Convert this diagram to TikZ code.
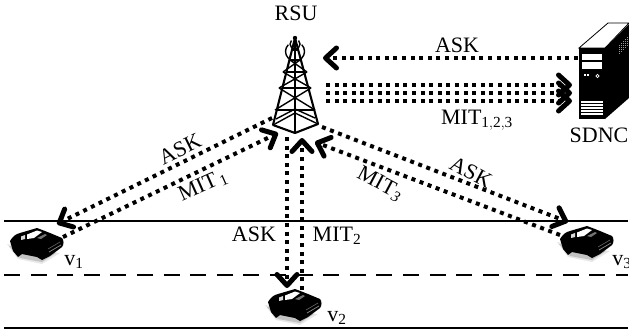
\documentclass[tikz,border=0pt]{standalone}
\usepackage{fontspec}
\setmainfont{Liberation Serif}
\usetikzlibrary{arrows.meta}
\tikzset{
  x=1pt,y=-1pt,
  lab/.style={font=\fontsize{22}{24}\selectfont,inner sep=0pt},
  dots/.style={line width=4pt,dash pattern=on 4pt off 4.6pt,
    -{Straight Barb[length=11pt,width=20pt,line width=5pt,round]}},
  road/.style={line width=1.8pt},
  tw/.style={line width=2.1pt,line join=round},
  tw2/.style={line width=1.4pt},
  pics/car/.style={code={
    \fill[black!30,opacity=.3] (-3,16) -- (8,31) -- (32,36) -- (50,25) -- (30,22) -- cycle;
    \fill[black!45,opacity=.4] (-1,18) -- (10,30) -- (32,34) -- (46,25) -- (30,22) -- cycle;
    \fill[black,line join=round] (0,13) .. controls (3,8) and (6,6) .. (10,5) -- (27,0) -- (35,3) -- (40,5)
      -- (52,10) .. controls (54,12) and (54,17) .. (52,19) -- (40,28) -- (32,32) -- (27,29) -- (12,26) -- (8,29) -- (3,23) -- cycle;
    \fill[white!85!black] (11,8.5) -- (15,7) -- (15,11) -- (11,12) -- cycle;
    \fill[white] (17,6.5) -- (27,2.5) -- (32,4) -- (24,10) -- (17,11) -- cycle;
    \fill[black!55] (27,10) -- (35,6) -- (37,7) -- (31,11) -- cycle;
    \draw[black!60,line width=.6pt] (38,21) -- (50,14);
    \draw[black!45,line width=.7pt] (39,24) -- (51,17);
  }},
}
\begin{document}
\begin{tikzpicture}
\useasboundingbox (0,0) rectangle (629,335);
% roads
\coordinate (r1a) at (4,221); \coordinate (r1b) at (628,221);
\coordinate (r2a) at (4,275); \coordinate (r2b) at (628,275);
\coordinate (r3a) at (4,328); \coordinate (r3b) at (628,328);
\draw[road] (r1a) -- (r1b);
\draw[road,dash pattern=on 16pt off 10.6pt] (r2a) -- (r2b);
\draw[road] (r3a) -- (r3b);
% tower
\coordinate (apex) at (295,38);
\coordinate (bl) at (273,125);
\coordinate (br) at (318,124);
\coordinate (bf) at (295,133);
\draw[tw] (bl) -- (apex) -- (br) -- (bf) -- cycle;
\draw[tw] (apex) -- (bf);
\draw[tw2] (bl) -- (295,113) -- (br);
\draw[tw2] (276,119) -- (295,109) -- (315,118);
\foreach \ya/\xa/\yb/\xb in {60/290/72/283, 72/283/88/279, 88/279/110/275}{
  \draw[tw2] (\xa,\ya) -- (590-\xb,\yb);
  \draw[tw2] (590-\xa,\ya) -- (\xb,\yb);
}
\foreach \y/\d in {50/3,60/5,72/8,88/12,110/19}{\draw[tw2] (295-\d,\y) -- (295+\d,\y);}
\fill (apex) circle (2.2);
\draw[line width=1.4pt] (288.3,44.7) arc[start angle=225,end angle=-45,radius=9.5];
\draw[line width=1.4pt] (291.5,40.5) arc[start angle=225,end angle=-45,radius=5];
% server
\fill[white,draw=black,line width=.8pt] (579,48) -- (608,23) -- (629,23) -- (605,48) -- cycle;
\fill[black] (605,48) -- (629,24) -- (629,98) -- (605,119) -- cycle;
\foreach \i in {0,1,2,3,4}{\draw[white!60!black,line width=1pt,dash pattern=on 1pt off 1pt] (619+2*\i,45-2*\i) -- (619+2*\i,55-2*\i);}
\fill[black] (579,48) rectangle (605,119);
\fill[white] (582,54) rectangle (602,60);
\fill[white] (582,62) rectangle (602,69);
\fill[white] (584,74) rectangle (586,76);
\fill[white] (587,74) rectangle (589,76);
\draw[white,line width=.6pt] (597.5,76) circle (1.6);
\foreach \y in {102,105,108,111,114}{\draw[white,line width=1.4pt] (581,\y) -- (603,\y);}
% anchor points
\coordinate (s1) at (578,58); \coordinate (t1) at (323,58);
\coordinate (a1) at (326,85); \coordinate (b1) at (572,85);
\coordinate (a2) at (326,93); \coordinate (b2) at (572,93);
\coordinate (a3) at (326,101);\coordinate (b3) at (572,101);
\coordinate (l1) at (272,118); \coordinate (l1e) at (57,224);
\coordinate (l2) at (63,237); \coordinate (l2e) at (278,133);
\coordinate (c1) at (287,137); \coordinate (c1e) at (287,288);
\coordinate (c2) at (302,290); \coordinate (c2e) at (302,138);
\coordinate (q1) at (322,127); \coordinate (q1e) at (568,222);
\coordinate (q2) at (560,235); \coordinate (q2e) at (315,142);
\draw[dots] (s1) -- (t1);
\draw[dots] (a1) -- (b1);
\draw[dots] (a2) -- (b2);
\draw[dots] (a3) -- (b3);
\draw[dots] (l1) -- (l1e);
\draw[dots] (l2) -- (l2e);
\draw[dots] (c1) -- (c1e);
\draw[dots] (c2) -- (c2e);
\draw[dots] (q1) -- (q1e);
\draw[dots] (q2) -- (q2e);
% cars
\pic at (10,228) {car};
\pic at (268,289) {car};
\pic at (560,226) {car};
% labels
\node[lab] (rsu) at (296,13) {RSU};
\node[lab] (sdnc) at (599,135) {SDNC};
\node[lab] (ask0) at (457,45) {ASK};
\node[lab] (mit0) at (477,120) {MIT$_{\mathrm{1,2,3}}$};
\node[lab,rotate=26] (askl) at (180,149) {ASK};
\node[lab,rotate=24] (mitl) at (203,186) {MIT$_{\,\mathrm{1}}$};
\node[lab,rotate=-28] (askr) at (471,172) {ASK};
\node[lab,rotate=-28] (mitr) at (380,184) {MIT$_{\mathit{3}}$};
\node[lab] (askc) at (254,234) {ASK};
\node[lab] (mitc) at (337,236) {MIT$_{\mathrm{2}}$};
\node[lab] (v1) at (74,262) {v$_{\mathrm{1}}$};
\node[lab] (v2) at (337,318) {v$_{\mathrm{2}}$};
\node[lab] (v3) at (622,262) {v$_{\mathrm{3}}$};
\end{tikzpicture}
\end{document}
